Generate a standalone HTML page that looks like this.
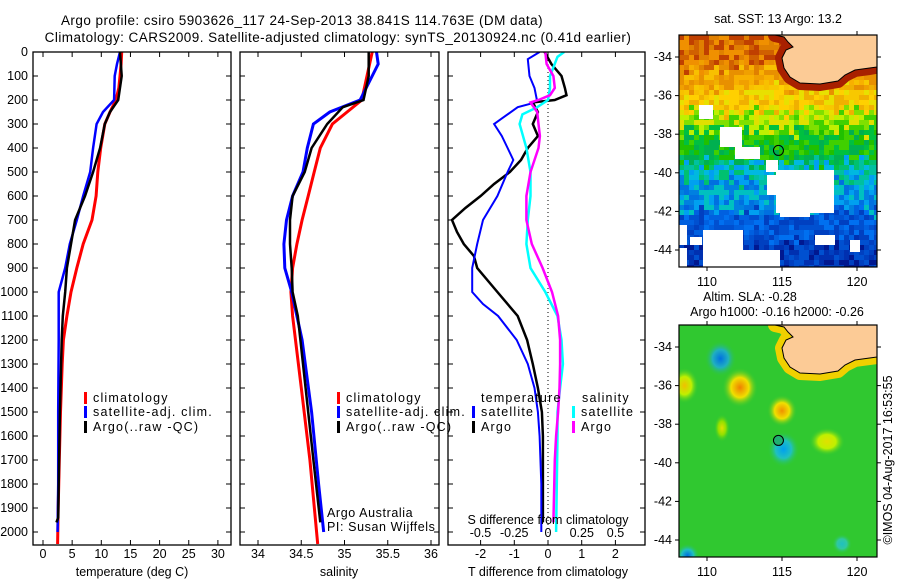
<!DOCTYPE html>
<html><head><meta charset="utf-8">
<style>
html,body{margin:0;padding:0;background:#fff;}
svg{display:block;font-family:"Liberation Sans",sans-serif;}
text{font-size:12.5px;fill:#000;}
text.ttl{font-size:13.5px;letter-spacing:0.45px;}
text.leg{letter-spacing:1.2px;}
</style></head>
<body>
<svg id="chart" width="900" height="580" viewBox="0 0 900 580">
<defs>
<clipPath id="c1"><rect x="33" y="52" width="198" height="493"/></clipPath>
<clipPath id="c2"><rect x="240" y="52" width="199" height="493"/></clipPath>
<clipPath id="c3"><rect x="448" y="52" width="197" height="493"/></clipPath>
<clipPath id="m1"><rect x="679" y="35" width="198" height="232"/></clipPath>
<clipPath id="m2"><rect x="679" y="325" width="198" height="232"/></clipPath>
</defs>
<text class="ttl" x="302" y="25" text-anchor="middle">Argo profile: csiro 5903626_117 24-Sep-2013 38.841S 114.763E (DM data)</text>
<text class="ttl" x="338" y="42" text-anchor="middle">Climatology: CARS2009. Satellite-adjusted climatology: synTS_20130924.nc (0.41d earlier)</text>
<g id="maps"></g>
<g id="plots"></g>
</svg>
<script>
// ---------- data ----------
const tempClimP = [0,50,100,150,200,250,300,400,500,600,700,800,900,1000,1100,1200,1300,1500,1700,1900,2050];
const tempClimV = [13.5,13.4,13.2,13,12.5,11.5,10.6,9.9,9.4,9.1,8.4,6.9,5.8,4.8,4.1,3.5,3.3,3.0,2.8,2.6,2.5];
const tempSatP = [0,50,100,200,250,300,400,500,600,700,800,900,1000,1200,1500,1800,2000];
const tempSatV = [13.2,12.7,12.3,12.2,10.3,9.2,8.6,8.1,6.9,5.8,4.6,3.8,2.7,2.7,2.6,2.6,2.5];
const tempArgoP = [0,100,200,250,300,400,500,600,700,800,900,1000,1100,1200,1500,1800,1940,1960];
const tempArgoV = [13.2,13.5,12.9,11.5,10.6,9.8,8.6,7.2,5.5,4.8,4.1,3.8,3.4,3.2,2.9,2.7,2.6,2.3];
const salClimP = [0,100,200,250,300,400,500,600,700,800,900,1000,1100,1400,1700,2050];
const salClimV = [35.32,35.26,35.2,35.03,34.86,34.72,34.65,34.58,34.51,34.45,34.4,34.38,34.4,34.5,34.6,34.69];
const salSatP = [0,50,100,200,250,300,400,500,600,700,800,900,1000,1100,1200,1500,1800,2000];
const salSatV = [35.37,35.39,35.32,35.18,34.83,34.64,34.57,34.52,34.4,34.33,34.3,34.31,34.39,34.45,34.51,34.62,34.7,34.76];
const salArgoP = [0,100,200,230,300,400,500,600,700,800,900,1000,1100,1400,1700,1960];
const salArgoV = [35.28,35.28,35.22,34.98,34.8,34.62,34.54,34.4,34.37,34.37,34.39,34.4,34.46,34.55,34.64,34.72];
const dTArgoP = [0,50,100,150,180,200,210,250,300,350,400,450,500,550,600,650,700,750,800,850,900,1000,1100,1200,1300,1400,1500,1600,1800,1960];
const dTArgoV = [-0.1,0.1,0.4,0.5,0.55,0.2,-0.45,-0.3,-0.45,-0.3,-0.6,-0.8,-1.13,-1.6,-2.0,-2.45,-2.85,-2.7,-2.5,-2.2,-2.1,-1.5,-0.9,-0.62,-0.45,-0.3,-0.18,-0.15,-0.15,-0.15];
const dTSatP = [0,30,100,150,200,215,230,280,300,350,400,450,500,600,700,800,900,1000,1050,1100,1200,1300,1400,1500,1600,1800,2000];
const dTSatV = [-0.25,-0.6,-0.55,-0.4,-0.33,-0.5,-0.9,-1.4,-1.6,-1.37,-1.2,-1.03,-1.2,-1.5,-1.93,-2.1,-2.25,-2.25,-1.93,-1.48,-0.93,-0.6,-0.4,-0.3,-0.25,-0.2,-0.2];
const dSArgoP = [0,50,100,150,180,200,210,250,300,350,400,500,600,700,800,900,1000,1100,1200,1300,1400,1500,1600,1700,1960];
const dSArgoV = [-0.02,-0.01,0.04,0.05,0.015,-0.07,-0.13,-0.08,-0.07,-0.06,-0.07,-0.13,-0.16,-0.16,-0.12,-0.04,0.03,0.075,0.09,0.09,0.085,0.075,0.06,0.05,0.04];
const dSSatP = [0,20,100,150,200,230,260,300,400,500,600,700,800,900,1000,1100,1200,1300,1400,1500,1600,2000];
const dSSatV = [0.12,0.07,0.015,0.015,0,-0.08,-0.19,-0.21,-0.16,-0.13,-0.13,-0.15,-0.16,-0.13,-0.02,0.07,0.1,0.11,0.09,0.07,0.07,0.06];
const pTicks = [0,100,200,300,400,500,600,700,800,900,1000,1100,1200,1300,1400,1500,1600,1700,1800,1900,2000];
const tTicks = [0,5,10,15,20,25,30];
const sTicks = [34,34.5,35,35.5,36];
const sTickLabels = ["34","34.5","35","35.5","36"];
const dTTicks = [-2,-1,0,1,2];
const dSTicks = [-0.5,-0.25,0,0.25,0.5];
const dSTickLabels = ["-0.5","-0.25","0","0.25","0.5"];
const lonTicks = [110,115,120];
const latTicks = [-34,-36,-38,-40,-42,-44];

// ---------- scales ----------
const NS="http://www.w3.org/2000/svg";
const yP = p => 52 + 0.24*p;
const xT = t => 43 + 5.83*t;
const xS = s => 258 + 86.5*(s-34);
const xDT = d => 548 + 33.7*d;
const xDS = d => 548 + 135*d;
const xLon = l => 707 + 15*(l-110);
const yLat1 = l => 57 + 19.3*(-34-l);
const yLat2 = l => 347 + 19.3*(-34-l);

const plots=document.getElementById('plots');
const maps=document.getElementById('maps');
function mk(tag,attrs,parent,txt){const e=document.createElementNS(NS,tag);for(const k in attrs)e.setAttribute(k,attrs[k]);if(txt!==undefined)e.textContent=txt;parent.appendChild(e);return e;}

function frame(x0,x1,y0,y1,name){
  const r=mk('rect',{x:x0,y:y0,width:x1-x0,height:y1-y0,fill:'none',stroke:'#000','stroke-width':1.3},plots);
  
  
}
function yTicks(x0,x1,labels){
  pTicks.forEach(p=>{
    const y=yP(p);
    mk('line',{x1:x0,y1:y,x2:x0+5,y2:y,stroke:'#000'},plots);
    mk('line',{x1:x1,y1:y,x2:x1-5,y2:y,stroke:'#000'},plots);
    if(labels){const t=mk('text',{x:x0-5,y:y+4,'text-anchor':'end'},plots,String(p));
      
      }
  });
}
function xTicks(vals,labs,sc,y0,y1,ly){
  vals.forEach((v,i)=>{
    const x=sc(v);
    mk('line',{x1:x,y1:y1,x2:x,y2:y1-5,stroke:'#000'},plots);
    mk('line',{x1:x,y1:y0,x2:x,y2:y0+5,stroke:'#000'},plots);
    const t=mk('text',{x:x,y:ly,'text-anchor':'middle'},plots,labs[i]);
    
    
  });
}
function line(P,V,sc,color,w,clip,name){
  const pts=P.map((p,i)=>sc(V[i]).toFixed(1)+','+yP(p).toFixed(1)).join(' ');
  const l=mk('polyline',{points:pts,fill:'none',stroke:color,'stroke-width':w,'clip-path':'url(#'+clip+')','stroke-linejoin':'miter'},plots);
  
  
}
function legItem(x,y,color,label,name){
  mk('rect',{x:x,y:y-10,width:3,height:12,fill:color},plots);
  const t=mk('text',{x:x+9,y:y,'class':'leg'},plots,label);
  
  
}
function txt(x,y,s,name,anchor){
  const t=mk('text',{x:x,y:y,'text-anchor':anchor||'start'},plots,s);
  
  
  return t;
}

// ---------- panel 1 temperature ----------
line(tempClimP,tempClimV,xT,'#ff0000',3,'c1','temp-climatology-line');
line(tempSatP,tempSatV,xT,'#0000ff',2.5,'c1','temp-satellite-line');
line(tempArgoP,tempArgoV,xT,'#000',2.5,'c1','temp-argo-line');
frame(33,231,52,545,'temperature-panel');
yTicks(33,231,true);
xTicks(tTicks,tTicks.map(String),xT,52,545,558);
txt(132,576,'temperature (deg C)','temperature-axis-title','middle');
legItem(84,402,'#ff0000','climatology','legend-climatology');
legItem(84,416,'#0000ff','satellite-adj. clim.','legend-satellite');
legItem(84,431,'#000','Argo(..raw -QC)','legend-argo');

// ---------- panel 2 salinity ----------
line(salClimP,salClimV,xS,'#ff0000',3,'c2','sal-climatology-line');
line(salSatP,salSatV,xS,'#0000ff',3,'c2','sal-satellite-line');
line(salArgoP,salArgoV,xS,'#000',2.5,'c2','sal-argo-line');
frame(240,439,52,545,'salinity-panel');
yTicks(240,439,false);
xTicks(sTicks,sTickLabels,xS,52,545,558);
txt(339,576,'salinity','salinity-axis-title','middle');
legItem(337,402,'#ff0000','climatology','legend-climatology-2');
legItem(337,416,'#0000ff','satellite-adj. clim.','legend-satellite-2');
legItem(337,431,'#000','Argo(..raw -QC)','legend-argo-2');
txt(327,517,'Argo Australia','argo-australia-note').setAttribute('style','letter-spacing:0.6px');
txt(327,531,'PI: Susan Wijffels','pi-note').setAttribute('style','letter-spacing:0.6px');

// ---------- panel 3 differences ----------
mk('line',{x1:548,y1:52,x2:548,y2:545,stroke:'#000','stroke-dasharray':'1,3'},plots);
line(dTArgoP,dTArgoV,xDT,'#000',2.5,'c3','dT-argo-line');
line(dTSatP,dTSatV,xDT,'#0000ff',2,'c3','dT-satellite-line');
line(dSSatP,dSSatV,xDS,'#00ffff',2.5,'c3','dS-satellite-line');
line(dSArgoP,dSArgoV,xDS,'#ff00ff',2.5,'c3','dS-argo-line');
frame(448,645,52,545,'difference-panel');
yTicks(448,645,false);
xTicks(dTTicks,dTTicks.map(String),xDT,52,545,558);
dSTicks.forEach((v,i)=>{const t=txt(xDS(v),537,dSTickLabels[i],'s-diff-tick-label','middle');});
txt(548,524,'S difference from climatology','s-diff-axis-title','middle');
txt(548,576,'T difference from climatology','t-diff-axis-title','middle');
txt(481,402,'temperature','legend-temperature-header').setAttribute('class','leg');
legItem(472,416,'#0000ff','satellite','legend-t-satellite');
legItem(472,431,'#000','Argo','legend-t-argo');
txt(582,402,'salinity','legend-salinity-header').setAttribute('class','leg');
legItem(572,416,'#00ffff','satellite','legend-s-satellite');
legItem(572,431,'#ff00ff','Argo','legend-s-argo');

// ---------- maps ----------
function hash(i,j){let h=(i*374761393+j*668265263)^0x5bd1e995;h=(h^(h>>>13))*1274126177;return ((h^(h>>>16))>>>0)/4294967296;}
const sstBands=[
 [-34.6,['#e08000','#d06000','#f09000','#c04000']],
 [-35.6,['#f0a000','#f8b000','#e89000','#f8c000']],
 [-36.8,['#f8c800','#e8e000','#ffd000','#f0b000']],
 [-37.8,['#c0f000','#80e000','#40d000','#e0e000']],
 [-39.4,['#00c040','#20c000','#00b050','#40d000']],
 [-40.5,['#00c0a0','#00b8e0','#00c070','#00a0f0']],
 [-42.0,['#00a0f0','#0080e0','#00c0c0','#0070e0']],
 [-43.5,['#0060e0','#0050d0','#0070f0','#0040c0']],
 [-99,['#0040c0','#0030b0','#0050d0','#001890']]];
const mg1=mk('g',{'clip-path':'url(#m1)'},maps);


for(let y=35;y<267;y+=5){for(let x=679;x<877;x+=5){
  const lat=-34-(y+2.5-57)/19.3+(hash(x,y)-0.5)*0.9;
  let b=sstBands.find(b=>lat>b[0]);const c=b[1][Math.floor(hash(y,x)*4)];
  mk('rect',{x:x,y:y,width:5,height:5,fill:c},mg1);}}
[[699,105,14,14],[720,127,22,20],[735,147,25,12],[766,160,12,12],[776,170,58,43],[767,175,15,20],[780,205,30,12],
 [679,225,8,20],[703,230,40,37],[679,248,8,19],[690,237,12,8],[740,250,40,17],[815,235,20,10],[850,240,10,12]].forEach(r=>{
  mk('rect',{x:r[0],y:r[1],width:r[2],height:r[3],fill:'#fff'},mg1);});
const coast=[[775,35],[877,35],[877,67],[855,70],[845,75],[838,81],[820,84],[800,83],[790,77],[784,68],[782,58],[786,50],[793,47],[788,42],[784,37]];
const coastStr=(dy)=>coast.map(p=>p[0]+','+(p[1]+dy)).join(' ');
mk('polygon',{points:coastStr(0),fill:'#a82000',stroke:'#a82000','stroke-width':14,'stroke-linejoin':'round'},mg1);
mk('polygon',{points:coastStr(0),fill:'#fccb96',stroke:'#000','stroke-width':1},mg1);
mk('circle',{cx:xLon(114.763),cy:yLat1(-38.841),r:5,fill:'none',stroke:'#000'},mg1);

const mg2=mk('g',{'clip-path':'url(#m2)'},maps);


mk('rect',{x:679,y:325,width:198,height:232,fill:'#30c830'},mg2);
const defs=document.querySelector('defs');
function blob(id,cx,cy,rx,ry,inner,mid){
  const g=mk('radialGradient',{id:id},defs);
  mk('stop',{offset:'0',"stop-color":inner},g);
  mk('stop',{offset:'0.5',"stop-color":mid},g);
  mk('stop',{offset:'1',"stop-color":'#30c830','stop-opacity':0},g);
  mk('ellipse',{cx:cx,cy:cy,rx:rx,ry:ry,fill:'url(#'+id+')'},mg2);
}
blob('b1',xLon(110.9),yLat2(-34.6),16,18,'#0070e0','#20b0c0');
blob('b2',xLon(112.2),yLat2(-36.1),18,20,'#f08000','#f0e000');
blob('b3',xLon(115),yLat2(-37.3),15,16,'#f09000','#f0e000');
blob('b4',xLon(115.1),yLat2(-39.3),16,18,'#00a0f0','#20c0c0');
blob('b5',xLon(118),yLat2(-38.9),18,14,'#e0e000','#c0f000');
blob('b6',xLon(108.5),yLat2(-36),14,18,'#f0c000','#c0f000');
blob('b7',xLon(108.7),yLat2(-44.8),12,12,'#0070e0','#20c0c0');
blob('b8',xLon(111),yLat2(-38.2),8,14,'#e0e000','#90e000');
blob('b9',xLon(119),yLat2(-44.2),10,10,'#20c0c0','#30c8a0');
mk('polygon',{points:coastStr(290),fill:'#f0a000',stroke:'#f0d000','stroke-width':14,'stroke-linejoin':'round'},mg2);
mk('polygon',{points:coastStr(290),fill:'#fccb96',stroke:'#000','stroke-width':1},mg2);
mk('circle',{cx:xLon(114.763),cy:yLat2(-38.841),r:5,fill:'#20b070',stroke:'#000'},mg2);

function mapAxes(yTop,yLat,tag){
  const f=mk('rect',{x:679,y:yTop,width:198,height:232,fill:'none',stroke:'#000','stroke-width':1.2},maps);
  
  
  lonTicks.forEach(l=>{const x=xLon(l);
    mk('line',{x1:x,y1:yTop,x2:x,y2:yTop-4,stroke:'#000'},maps);
    mk('line',{x1:x,y1:yTop+232,x2:x,y2:yTop+236,stroke:'#000'},maps);
    const t=mk('text',{x:x,y:yTop+251,'text-anchor':'middle'},maps,String(l));
    
    });
  latTicks.forEach(l=>{const y=yLat(l);
    mk('line',{x1:679,y1:y,x2:675,y2:y,stroke:'#000'},maps);
    mk('line',{x1:877,y1:y,x2:881,y2:y,stroke:'#000'},maps);
    const t=mk('text',{x:672,y:y+4,'text-anchor':'end'},maps,String(l));
    
    });
}
mapAxes(35,yLat1,'sst-map');
mapAxes(325,yLat2,'sla-map');
txt(778,23,'sat. SST: 13 Argo: 13.2','sst-map-title','middle');
txt(750,301,'Altim. SLA: -0.28','sla-map-title','middle');
txt(777,316,'Argo h1000: -0.16 h2000: -0.26','argo-height-title','middle');
const cp=txt(0,0,'\u00a9IMOS 04-Aug-2017 16:53:55','copyright-stamp','middle');
cp.setAttribute('transform','translate(892,460) rotate(-90)');
</script>
</body></html>
